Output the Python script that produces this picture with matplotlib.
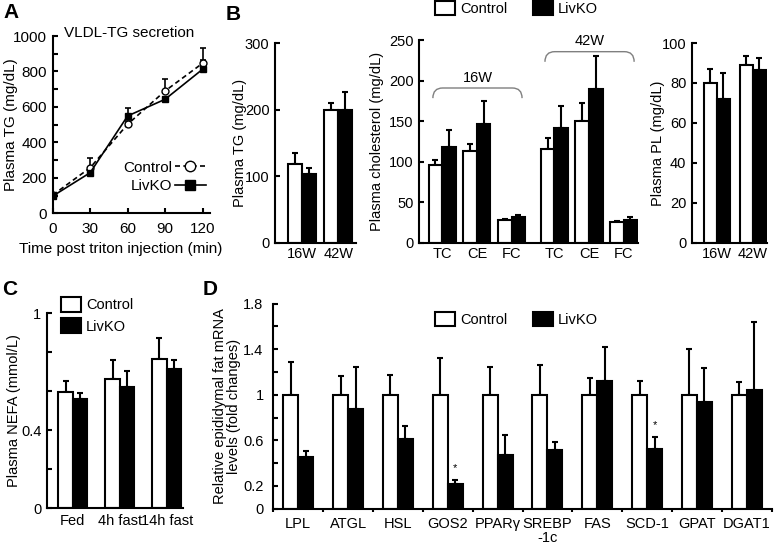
import numpy as np
import matplotlib
matplotlib.use("Agg")
import matplotlib.pyplot as plt
from matplotlib.path import Path
from matplotlib.patches import PathPatch, Patch

plt.rcParams["font.family"] = ["Liberation Sans", "DejaVu Sans"]
plt.rcParams["font.size"] = 10.5

# ---- data ----
# A: VLDL-TG secretion
time_min = [0, 30, 60, 90, 120]
vldl_ctrl = [103, 257, 502, 690, 846]
vldl_ctrl_err = [8, 57, 20, 68, 84]
vldl_ko = [97, 229, 549, 643, 812]
vldl_ko_err = [8, 15, 47, 12, 55]

# B: plasma lipids
age_labels = ["16W", "42W"]
tg_ctrl = [118.5, 200]
tg_ctrl_err = [16, 10]
tg_ko = [103.5, 200]
tg_ko_err = [9, 26.5]

chol_labels = ["TC", "CE", "FC", "TC", "CE", "FC"]
chol_ctrl = [96, 113.6, 28, 115, 150.6, 26]
chol_ctrl_err = [6, 7.8, 1.5, 14.6, 21.4, 1]
chol_ko = [118.5, 146, 31.3, 142, 189.7, 28]
chol_ko_err = [20.5, 29, 2.4, 27, 40, 4]

pl_ctrl = [80, 89.2]
pl_ctrl_err = [7.2, 4.2]
pl_ko = [71.8, 86.4]
pl_ko_err = [13.2, 6.1]

# C: plasma NEFA
nefa_labels = ["Fed", "4h fast", "14h fast"]
nefa_ctrl = [0.596, 0.661, 0.765]
nefa_ctrl_err = [0.056, 0.099, 0.11]
nefa_ko = [0.558, 0.623, 0.714]
nefa_ko_err = [0.031, 0.081, 0.046]

# D: epididymal fat mRNA
genes = ["LPL", "ATGL", "HSL", "GOS2", "PPAR\u03b3", "SREBP\n-1c", "FAS", "SCD-1", "GPAT", "DGAT1"]
mrna_ctrl = [1.0, 1.0, 1.0, 1.0, 1.0, 1.0, 1.0, 1.0, 1.0, 1.0]
mrna_ctrl_err = [0.29, 0.164, 0.172, 0.32, 0.243, 0.26, 0.149, 0.12, 0.398, 0.108]
mrna_ko = [0.453, 0.871, 0.614, 0.219, 0.47, 0.512, 1.123, 0.523, 0.933, 1.044]
mrna_ko_err = [0.05, 0.375, 0.111, 0.032, 0.179, 0.073, 0.295, 0.109, 0.304, 0.596]
mrna_signif = ["", "", "", "*", "", "", "", "*", "", ""]

W, H = 774, 547
fig = plt.figure(figsize=(W / 100, H / 100), dpi=100)


def add_ax(left, top, right, bottom):
    # pixel box -> figure fraction
    return fig.add_axes([left / W, 1 - bottom / H, (right - left) / W, (bottom - top) / H])


def style(ax, xpad=3, ypad=4):
    for s in ["top", "right"]:
        ax.spines[s].set_visible(False)
    for s in ["left", "bottom"]:
        ax.spines[s].set_linewidth(1.5)
    ax.tick_params(axis="y", which="both", direction="in", length=3.5, width=1.5, pad=ypad)
    ax.tick_params(axis="x", which="both", direction="in", length=0, width=1.5, pad=xpad)


def ylabel_at(ax, text, xpix, **kw):
    # xpix = right edge of the rotated label
    ax.set_ylabel(text, **kw)
    bb = ax.get_position()
    ax.yaxis.set_label_coords((xpix / W - bb.x0) / bb.width, 0.5)


def bars(ax, x, ctrl, ctrl_err, ko, ko_err, width):
    ax.bar(x - width / 2, ctrl, width, color="white", edgecolor="black", linewidth=1.5, zorder=2)
    ax.bar(x + width / 2, ko, width, color="black", edgecolor="black", linewidth=1.5, zorder=2)
    ax.errorbar(x - width / 2, ctrl, yerr=[np.zeros(len(ctrl)), ctrl_err], fmt="none",
                ecolor="black", elinewidth=1.5, capsize=2.5, capthick=1.5, zorder=1)
    ax.errorbar(x + width / 2, ko, yerr=[np.zeros(len(ko)), ko_err], fmt="none",
                ecolor="black", elinewidth=1.5, capsize=2.5, capthick=1.5, zorder=1)


def box_handles():
    return [Patch(facecolor="white", edgecolor="black", linewidth=1.5),
            Patch(facecolor="black", edgecolor="black", linewidth=1.5)]


# ---------------- A ----------------
fsA = 11
axA = add_ax(52.7, 36, 210, 213.3)
style(axA, xpad=6)
axA.tick_params(axis="both", labelsize=fsA)
axA.tick_params(axis="x", length=3.5)
axA.errorbar(time_min, vldl_ctrl, yerr=[np.zeros(5), vldl_ctrl_err], fmt="none",
             ecolor="black", elinewidth=1.2, capsize=2.5, capthick=1.2)
axA.errorbar(time_min, vldl_ko, yerr=[np.zeros(5), vldl_ko_err], fmt="none",
             ecolor="black", elinewidth=1.2, capsize=2.5, capthick=1.2)
axA.plot(time_min, vldl_ctrl, ls=(0, (3, 2)), color="black", lw=1.2, marker="o",
         ms=5, mfc="white", mec="black", label="Control")
axA.plot(time_min, vldl_ko, ls="-", color="black", lw=1.2, marker="s",
         ms=5, mfc="black", mec="black", label="LivKO")
axA.set_xlim(0, 126)
axA.set_ylim(0, 1000)
axA.set_xticks(time_min)
axA.set_yticks(range(0, 1001, 200))
axA.set_yticks(range(0, 1001, 100), minor=True)
axA.text(0.485, 1.017, "VLDL-TG secretion", transform=axA.transAxes,
         ha="center", va="center", fontsize=fsA)
axA.set_xlabel("Time post triton injection (min)", fontsize=fsA)
axA.xaxis.set_label_coords((120.7 - 52.7) / (210 - 52.7), -0.16)
ylabel_at(axA, "Plasma TG (mg/dL)", 18, fontsize=fsA)
axA.legend(loc="lower right", bbox_to_anchor=(1.02, 0.07), frameon=False,
           markerfirst=False, handlelength=2.0, handletextpad=0.2,
           labelspacing=0.3, borderpad=0, markerscale=1.5, fontsize=fsA)
fig.text(3 / W, 1 - 3 / H, "A", fontsize=15, fontweight="bold", va="top")

# ---------------- B1 ----------------
axB1 = add_ax(275, 43, 356, 242.7)
style(axB1)
xb = np.arange(2)
bars(axB1, xb, tg_ctrl, tg_ctrl_err, tg_ko, tg_ko_err, 0.39)
axB1.set_xlim(-0.76, 1.49)
axB1.set_ylim(0, 300)
axB1.set_yticks([0, 100, 200, 300])
axB1.set_xticks(xb)
axB1.set_xticklabels(age_labels)
ylabel_at(axB1, "Plasma TG (mg/dL)", 247)
fig.text(226 / W, 1 - 5 / H, "B", fontsize=15, fontweight="bold", va="top")

# ---------------- B2 ----------------
axB2 = add_ax(419, 40, 638.3, 242.7)
style(axB2)
xc = np.concatenate([np.arange(3), np.arange(3) + 3.23])
bars(axB2, xc, chol_ctrl, chol_ctrl_err, chol_ko, chol_ko_err, 0.39)
axB2.set_xlim(-0.67, 5.65)
axB2.set_ylim(0, 250)
axB2.set_yticks(range(0, 251, 50))
axB2.set_xticks(xc)
axB2.set_xticklabels(chol_labels)
ylabel_at(axB2, "Plasma cholesterol (mg/dL)", 384)

# brackets over each age group
for g, (lab, ytop) in enumerate(zip(age_labels, [190.8, 235.6])):
    x0 = xc[3 * g] - 0.27
    x1 = xc[3 * g + 2] + 0.30
    yb = ytop - 12.5
    dx = 0.28
    verts = [(x0, yb), (x0, ytop), (x0 + dx, ytop), (x1 - dx, ytop), (x1, ytop), (x1, yb)]
    codes = [Path.MOVETO, Path.CURVE3, Path.CURVE3, Path.LINETO, Path.CURVE3, Path.CURVE3]
    axB2.add_patch(PathPatch(Path(verts, codes), fill=False, edgecolor="#7f7f7f",
                             linewidth=1.0, clip_on=False))
    axB2.text((x0 + x1) / 2, ytop + 4, lab, ha="center", va="bottom")

# shared legend for B
fig.legend(box_handles(), ["Control", "LivKO"], loc="upper left",
           bbox_to_anchor=(435 / W, 1 - 1 / H), ncol=2, frameon=False,
           handlelength=1.4, handleheight=1.05, handletextpad=0.3,
           columnspacing=1.75, borderpad=0, borderaxespad=0)

# ---------------- B3 ----------------
axB3 = add_ax(692, 43, 767, 242.7)
style(axB3)
bars(axB3, xb, pl_ctrl, pl_ctrl_err, pl_ko, pl_ko_err, 0.36)
axB3.set_xlim(-0.69, 1.39)
axB3.set_ylim(0, 100)
axB3.set_yticks(range(0, 101, 20))
axB3.set_xticks(xb)
axB3.set_xticklabels(age_labels)
ylabel_at(axB3, "Plasma PL (mg/dL)", 665)

# ---------------- C ----------------
axC = add_ax(47, 313.3, 182.7, 508)
style(axC, xpad=4)
xn = np.arange(3)
bars(axC, xn, nefa_ctrl, nefa_ctrl_err, nefa_ko, nefa_ko_err, 0.31)
axC.set_xlim(-0.55, 2.34)
axC.set_ylim(0, 1)
axC.set_yticks(np.arange(0, 1.01, 0.2))
axC.set_yticklabels(["0", "", "0.4", "", "", "1"])
axC.set_xticks(xn)
axC.set_xticklabels(nefa_labels)
ylabel_at(axC, "Plasma NEFA (mmol/L)", 21)
axC.legend(box_handles(), ["Control", "LivKO"], loc="upper left",
           bbox_to_anchor=((61 - 47) / (182.7 - 47), 1 + (313.3 - 297) / (508 - 313.3)),
           frameon=False, handlelength=1.4, handleheight=1.2, handletextpad=0.3,
           labelspacing=0.4, borderpad=0, borderaxespad=0)
fig.text(2 / W, 1 - 280 / H, "C", fontsize=15, fontweight="bold", va="top")

# ---------------- D ----------------
axD = add_ax(273.3, 303.5, 771.7, 508.7)
style(axD, xpad=6, ypad=7)
xg = np.arange(len(genes))
bars(axD, xg, mrna_ctrl, mrna_ctrl_err, mrna_ko, mrna_ko_err, 0.3)
for i, s in enumerate(mrna_signif):
    if s:
        axD.text(xg[i] + 0.15, mrna_ko[i] + mrna_ko_err[i] + 0.06, s,
                 ha="center", va="bottom", fontsize=8)
axD.set_xlim(-0.5, len(genes) - 0.5)
axD.set_ylim(0, 1.8)
axD.set_yticks(np.arange(0, 1.81, 0.2))
axD.set_yticklabels(["0", "0.2", "", "0.6", "", "1", "", "1.4", "", "1.8"])
axD.set_xticks(xg)
axD.set_xticklabels(genes, linespacing=1.0)
axD.set_xticks(np.arange(-0.5, len(genes), 1.0), minor=True)
axD.tick_params(axis="x", which="minor", direction="out", length=2.5, width=1.5)
ylabel_at(axD, "Relative epididymal fat mRNA\nlevels (fold changes)", 241)
axD.yaxis.label.set_linespacing(1.0)
axD.legend(box_handles(), ["Control", "LivKO"], loc="upper left",
           bbox_to_anchor=((435 - 273.3) / (771.7 - 273.3), 1 - (312 - 303.5) / (508.7 - 303.5)),
           ncol=2, frameon=False, handlelength=1.4, handleheight=1.05, handletextpad=0.3,
           columnspacing=1.75, borderpad=0, borderaxespad=0)
fig.text(203 / W, 1 - 280 / H, "D", fontsize=15, fontweight="bold", va="top")

fig.savefig("out.png", dpi=100)
